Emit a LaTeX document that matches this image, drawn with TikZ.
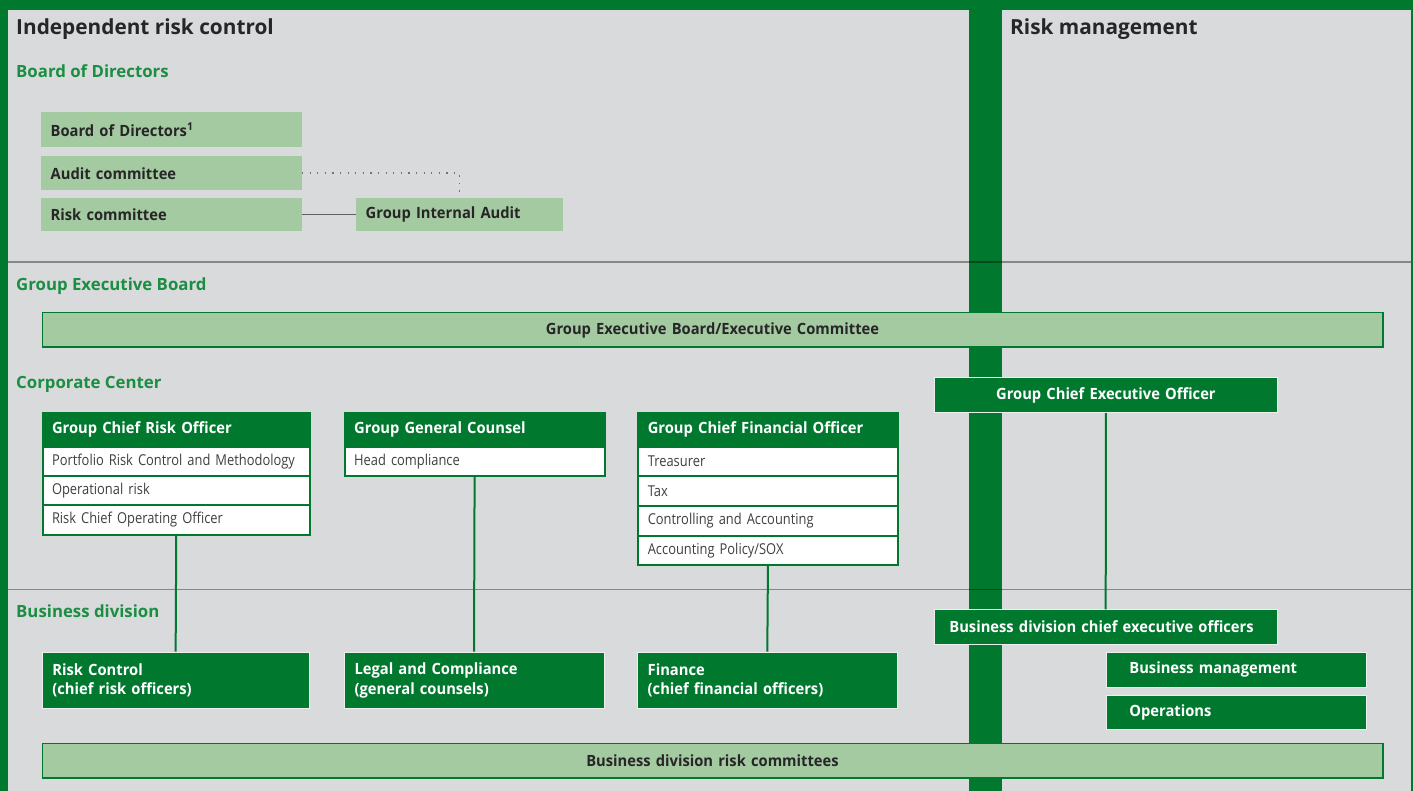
\documentclass[tikz,border=0pt]{standalone}
\usepackage{fontspec}
\setmainfont{Open Sans}
\newfontfamily\cnd{Open Sans}[FakeStretch=0.95]
\newfontfamily\cndl{Open Sans}[FakeStretch=0.86]
\definecolor{bggray}{HTML}{D9DADB}
\definecolor{dgreen}{HTML}{00792F}
\definecolor{lgreen}{HTML}{A4CAA2}
\definecolor{lblgreen}{HTML}{1B8E43}
\definecolor{txt}{HTML}{262626}
\definecolor{rowtxt}{HTML}{404040}
\tikzset{
  title/.style={inner sep=0pt, anchor=base west, text=txt, font=\bfseries\fontsize{20.8}{24}\selectfont},
  sect/.style={inner sep=0pt, anchor=base west, text=lblgreen, font=\bfseries\fontsize{16.8}{20}\selectfont},
  basebox/.style={anchor=north west, inner ysep=0pt, align=left},
  lb/.style={basebox, fill=lgreen, inner xsep=9.5pt, text=txt, font=\cnd\bfseries\fontsize{15.5}{18}\selectfont},
  lbar/.style={basebox, fill=lgreen, draw=dgreen, line width=1.5pt, inner xsep=10pt, align=center, text=txt, font=\cnd\bfseries\fontsize{15.5}{18}\selectfont},
  hd/.style={basebox, fill=dgreen, draw=dgreen, line width=2pt, inner xsep=9.5pt, text=white, font=\cnd\bfseries\fontsize{15.5}{18}\selectfont},
  row/.style={basebox, fill=white, draw=dgreen, line width=2pt, inner xsep=9.5pt, text=rowtxt, font=\cndl\fontsize{15}{18}\selectfont},
  db/.style={basebox, fill=dgreen, draw=white!55!bggray, line width=0.8pt, text=white, font=\cnd\bfseries\fontsize{15.5}{19.7}\selectfont},
  conn/.style={draw=dgreen, line width=2pt},
  graylink/.style={draw=black!62, line width=1.8pt},
  dotlink/.style={draw=black!55, line width=1.5pt, dash pattern=on 1.3pt off 6.3pt},
  sepline/.style={draw=black, draw opacity=0.38, line width=1.6pt}
}
\begin{document}
\begin{tikzpicture}[x=1pt,y=-1pt]
\useasboundingbox (0,0) rectangle (1413,791);
% background and frame
\fill[bggray] (0,0) rectangle (1413,791);
\fill[dgreen] (0,0) rectangle (1413,10);
\fill[dgreen] (0,0) rectangle (8,791);
\fill[dgreen] (1411,0) rectangle (1413,791);
\fill[dgreen] (969,10) rectangle (1002,791);
\draw[sepline] (8,262) -- (1411,262);
\draw[sepline] (8,589.5) -- (1411,589.5);
% headings
\node[title] (t1) at (16,35) {Independent risk control};
\node[title] (t2) at (1010,35) {Risk management};
\node[sect] (s1) at (16,78) {Board of Directors};
\node[sect] (s2) at (16,290.7) {Group Executive Board};
\node[sect] (s3) at (16,388.3) {Corporate Center};
\node[sect] (s4) at (16,617.3) {Business division};
% board
\node[lb, text width=241.5pt, minimum height=35pt] (bod) at (41,112) {Board of Directors\textsuperscript{1}};
\node[lb, text width=241.5pt, minimum height=34pt] (audit) at (41,156) {Audit committee};
\node[lb, text width=241.5pt, minimum height=33.5pt] (riskc) at (41,197.5) {Risk committee};
\node[lb, text width=187.5pt, minimum height=33.5pt] (gia) at (356,197.5) {Group Internal Audit};
\draw[graylink] (riskc.east) -- (gia.west);
\draw[dotlink] (audit.east) -| ([yshift=4.5pt]gia.north);
% GEB bar
\node[lbar, text width=1320.5pt, minimum height=34.5pt] (geb) at (41.5,312) {Group Executive Board/Executive Committee};
% CRO
\node[hd, text width=248.5pt, minimum height=34pt] (cro) at (41.5,411.7) {Group Chief Risk Officer};
\node[row, text width=248.5pt, minimum height=29.3pt] (cro1) at (41.5,445.7) {Portfolio Risk Control and Methodology};
\node[row, text width=248.5pt, minimum height=29.3pt] (cro2) at (41.5,475) {Operational risk};
\node[row, text width=248.5pt, minimum height=29.3pt] (cro3) at (41.5,504.3) {Risk Chief Operating Officer};
% GGC
\node[hd, text width=240.8pt, minimum height=34pt] (ggc) at (343.7,411.7) {Group General Counsel};
\node[row, text width=240.8pt, minimum height=29pt] (ggc1) at (343.7,445.7) {Head compliance};
% CFO
\node[hd, text width=240.3pt, minimum height=34pt] (cfo) at (637.3,411.7) {Group Chief Financial Officer};
\node[row, text width=240.3pt, minimum height=29.6pt] (cfo1) at (637.3,445.7) {Treasurer};
\node[row, text width=240.3pt, minimum height=29.6pt] (cfo2) at (637.3,475.3) {Tax};
\node[row, text width=240.3pt, minimum height=29.6pt] (cfo3) at (637.3,504.9) {Controlling and Accounting};
\node[row, text width=240.3pt, minimum height=29.6pt] (cfo4) at (637.3,534.5) {Accounting Policy/SOX};
% CEO side
\node[db, inner xsep=10pt, text width=322.2pt, align=center, minimum height=35pt] (gceo) at (934.4,377.3) {Group Chief Executive Officer};
\node[db, inner xsep=15pt, text width=312.6pt, minimum height=34.7pt] (bdceo) at (934,609.3) {Business division chief executive officers};
\node[db, inner xsep=23pt, text width=214pt, minimum height=34.4pt] (bm) at (1106,652.3) {Business management};
\node[db, inner xsep=23pt, text width=214pt, minimum height=34.3pt] (ops) at (1106,695) {Operations};
% business division
\node[db, inner xsep=10.5pt, text width=246.5pt, minimum height=56.6pt] (rc) at (41.5,651.7) {Risk Control\\(chief risk officers)};
\node[db, inner xsep=10.5pt, text width=238.8pt, minimum height=56.6pt] (lc) at (343.7,651.7) {Legal and Compliance\\(general counsels)};
\node[db, inner xsep=10pt, text width=239.2pt, minimum height=56.6pt] (fin) at (637.3,651.7) {Finance\\(chief financial officers)};
\node[lbar, text width=1320.5pt, minimum height=34.6pt] (bdrc) at (41.5,742.7) {Business division risk committees};
% connectors
\draw[conn] (cro3.south) -- (rc.north);
\draw[conn] (ggc1.south) -- (lc.north);
\draw[conn] (cfo4.south) -- (fin.north);
\draw[conn] (gceo.south) -- (bdceo.north);
\end{tikzpicture}
\end{document}
